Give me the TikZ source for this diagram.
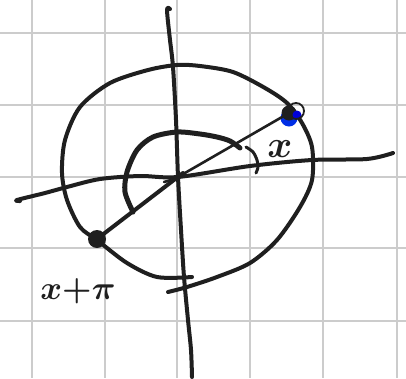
\documentclass[tikz,border=0pt]{standalone}
\usepackage{tikz}
\begin{document}
\begin{tikzpicture}[x=1pt,y=-1pt,
  ink/.style={line width=4pt,line cap=round,line join=round,black!88},
  thinink/.style={line width=2.6pt,line cap=round,line join=round,black!88},
  gridline/.style={line width=1.6pt,black!20},
  dotnode/.style={circle,fill=black!88,inner sep=0pt,minimum size=16pt},
  lbl/.style={inner sep=0pt,text=black!88,font=\boldmath,transform shape}]
\useasboundingbox (0,0) rectangle (406,378);
\fill[white] (0,0) rectangle (406,378);
% grid
\foreach \gx in {32,105,177,250,323,397} \draw[gridline] (\gx,0) -- (\gx,378);
\foreach \gy in {33,105,177,248,321} \draw[gridline] (0,\gy) -- (406,\gy);
% named points
\coordinate (O) at (178,177);
% circle
\draw[ink] plot[smooth] coordinates {(168,292) (187,287) (217,277) (250,263) (277,240) (300,207) (312,180) (312,147) (302,123) (287,103) (265,88) (233,72) (200,66) (177,65) (148,70) (110,83) (80,107) (65,140) (62,173) (67,200) (80,227) (97,240) (127,263) (157,277) (192,277)};
% axes
\draw[ink] plot[smooth] coordinates {(20,201) (17,200) (45,193) (67,187) (100,179) (140,176) (178,177) (250,166) (312,160) (367,159) (393,153)};
\draw[ink] plot[smooth] coordinates {(170,9) (167,10) (170,40) (173,67) (176,120) (178,177) (181,230) (184,277) (188,320) (191,350) (192,377)};
% angle arcs
\draw[line width=5pt,line cap=round,black!88] plot[smooth] coordinates {(240,148) (230,141) (217,137) (200,134) (177,132) (153,137) (137,150) (127,172) (125,192) (133,212)};
\draw[thinink,line width=3pt] plot[smooth] coordinates {(246,147) (253,152) (257,160) (258,167) (256,173)};
\draw[thinink] (164,182) -- (171,180);
% points
\fill[blue!80!cyan!90!black] (289,118) circle (8.5pt);
\node[dotnode,minimum size=15pt] (P) at (289,113) {};
\fill[blue!85!black] (297,115) circle (4.5pt);
\draw[black!88,line width=1.8pt] (296,111) circle (8pt);
\node[dotnode,minimum size=18pt] (Q) at (97,239) {};
% ray
\draw[ink] (Q.center) -- (183,173);
\draw[thinink] (O) -- (P.center);
% labels
\node[lbl,scale=3.8] (lx) at (280,149) {$x$};
\node[lbl,scale=3.3] (lxp) at (78,291) {$x{+}\pi$};
\end{tikzpicture}
\end{document}
